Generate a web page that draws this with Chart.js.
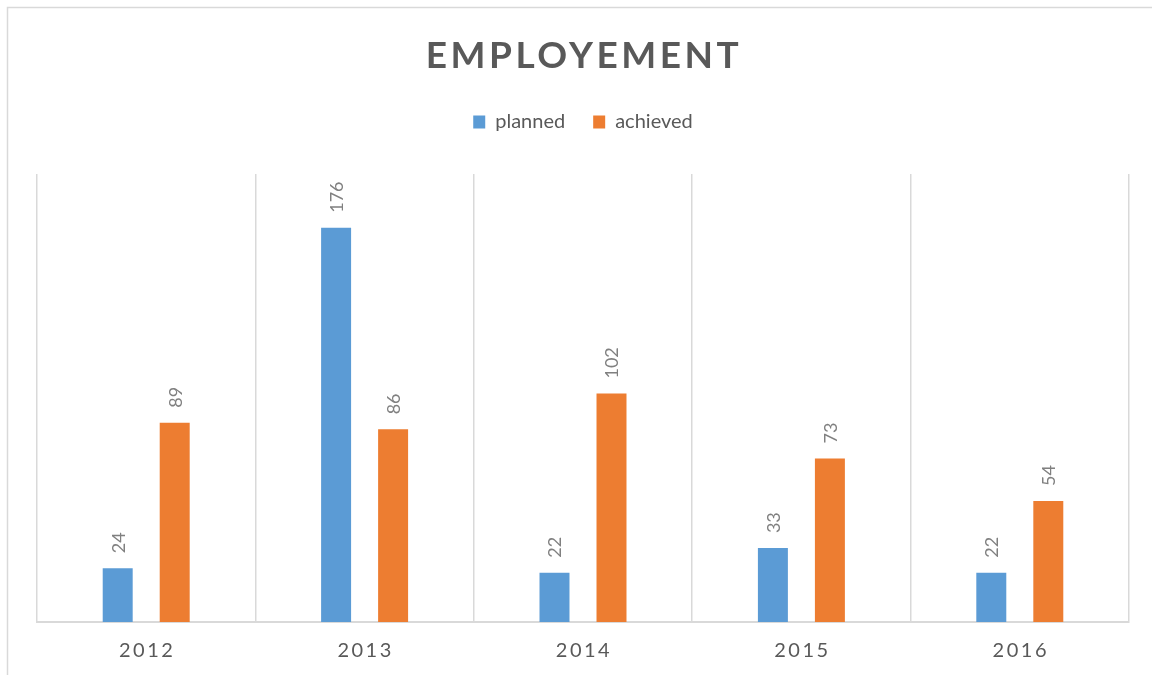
<!DOCTYPE html>
<html>
<head>
<meta charset="utf-8">
<script src="https://cdn.jsdelivr.net/npm/chart.js@4"></script>
<style>
  html, body { margin: 0; padding: 0; background: #fff; }
  #wrap { width: 1152px; height: 675px; }
</style>
</head>
<body>
<div id="wrap"><canvas id="barChart" width="1152" height="675"></canvas></div>
<script>
// data ------------------------------------------------------------
const years = ['2012', '2013', '2014', '2015', '2016'];
const planned = [24, 176, 22, 33, 22];
const achieved = [89, 86, 102, 73, 54];
const chartTitle = 'EMPLOYEMENT';

// styling
const blue = '#5B9BD5';
const orange = '#ED7D31';
const gridGray = '#d9d9d9';
const textGray = '#595959';
const labelGray = '#808080';
const fontName = 'Lato';

// extra room under the legend
const legendGap = {
  id: 'legendGap',
  beforeInit(chart) {
    const fit = chart.legend.fit;
    chart.legend.fit = function () {
      fit.bind(chart.legend)();
      this.height += 32;
    };
  }
};

// frame, title, tick labels and value labels
const decorations = {
  id: 'decorations',
  beforeDraw(chart) {
    const ctx = chart.ctx;
    ctx.save();
    ctx.strokeStyle = gridGray;
    ctx.lineWidth = 1.5;
    ctx.strokeRect(7.5, 7.5, 1200, 700);
    ctx.restore();
  },
  afterDatasetsDraw(chart) {
    const ctx = chart.ctx;
    ctx.save();
    ctx.fillStyle = labelGray;
    ctx.font = '18px ' + fontName;
    ctx.textAlign = 'left';
    ctx.textBaseline = 'middle';
    chart.data.datasets.forEach((ds, i) => {
      chart.getDatasetMeta(i).data.forEach((bar, j) => {
        ctx.save();
        ctx.translate(bar.x + 1, bar.y - 15);
        ctx.rotate(-Math.PI / 2);
        ctx.fillText(String(ds.data[j]), 0, 0);
        ctx.restore();
      });
    });
    ctx.restore();
  },
  afterDraw(chart) {
    const ctx = chart.ctx;
    ctx.save();
    // title
    ctx.fillStyle = textGray;
    ctx.font = 'bold 37px ' + fontName;
    ctx.letterSpacing = '3.5px';
    ctx.textAlign = 'center';
    ctx.textBaseline = 'alphabetic';
    ctx.fillText(chartTitle, 584, 68);
    // x tick labels
    const xScale = chart.scales.x;
    ctx.font = '20px ' + fontName;
    ctx.letterSpacing = '2.5px';
    chart.data.labels.forEach((lab, i) => {
      ctx.fillText(lab, xScale.getPixelForTick(i) + 1, 657);
    });
    ctx.restore();
  }
};

const data = {
  labels: years,
  datasets: [
    { label: 'planned', data: planned, backgroundColor: blue, barPercentage: 0.526, categoryPercentage: 0.522 },
    { label: 'achieved', data: achieved, backgroundColor: orange, barPercentage: 0.526, categoryPercentage: 0.522 }
  ]
};

const config = {
  type: 'bar',
  data: data,
  options: {
    responsive: false,
    animation: false,
    layout: { padding: { left: 37, right: 23, top: 84, bottom: 53 } },
    plugins: {
      title: { display: false },
      tooltip: { enabled: false },
      legend: {
        position: 'top',
        labels: {
          boxWidth: 12,
          boxHeight: 13,
          padding: 28,
          color: textGray,
          font: { family: fontName, size: 20 }
        }
      }
    },
    scales: {
      x: {
        grid: { offset: true, color: gridGray, lineWidth: 1.5, drawTicks: false },
        border: { color: gridGray, width: 2 },
        ticks: { display: false }
      },
      y: {
        display: false,
        min: 0,
        max: 200
      }
    }
  },
  plugins: [legendGap, decorations]
};

const barChart = new Chart(document.getElementById('barChart'), config);
</script>
</body>
</html>
